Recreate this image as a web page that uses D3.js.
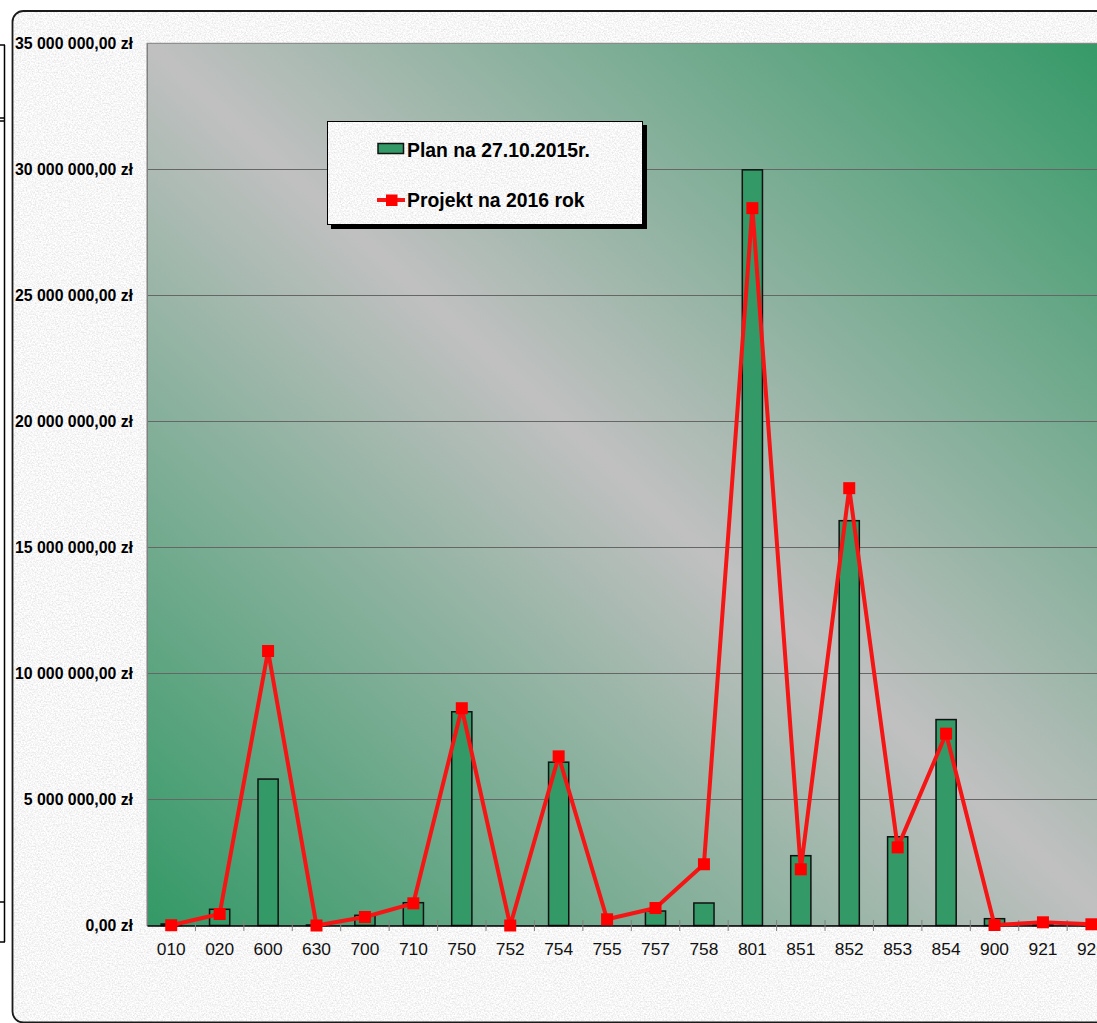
<!DOCTYPE html>
<html>
<head>
<meta charset="utf-8">
<script src="https://cdn.jsdelivr.net/npm/d3@7"></script>
<style>
  html, body { margin: 0; padding: 0; background: #ffffff; }
  svg { display: block; }
</style>
</head>
<body>
<svg id="chart" width="1097" height="1023"></svg>
<script>
// ---- data ----
const categories = ["010","020","600","630","700","710","750","752","754","755","757","758","801","851","852","853","854","900","921","926"];
const planValues = [60000, 643000, 5810000, 20000, 405000, 905000, 8480000, 0, 6480000, 0, 575000, 893000, 29980000, 2770000, 16060000, 3520000, 8170000, 270000, 40000, 20000];
const projectValues = [10000, 456000, 10890000, 0, 337000, 880000, 8620000, 0, 6710000, 246000, 694000, 2430000, 28460000, 2230000, 17350000, 3100000, 7610000, 20000, 127000, 48000];
const yTicks = [0, 5000000, 10000000, 15000000, 20000000, 25000000, 30000000, 35000000];
const seriesNames = ["Plan na 27.10.2015r.", "Projekt na 2016 rok"];

// ---- layout ----
const W = 1097, H = 1023;
const plot = { left: 147, top: 43.3, bottom: 925.5, step: 48.43 };
plot.right = plot.left + categories.length * plot.step;
const FONT = "Liberation Sans, Arial, sans-serif";

const svg = d3.select("#chart");
const defs = svg.append("defs");

// fit font size so that a text reaches a target width
function fitFont(sel, targetWidth, base) {
  let maxW = 0;
  sel.each(function () { maxW = Math.max(maxW, this.getComputedTextLength()); });
  if (maxW > 0) sel.attr("font-size", base * targetWidth / maxW);
}

// granite texture filter
const f = defs.append("filter").attr("id", "granite")
  .attr("x", 0).attr("y", 0).attr("width", 1).attr("height", 1);
f.append("feTurbulence").attr("type", "fractalNoise").attr("baseFrequency", 0.65)
  .attr("numOctaves", 3).attr("seed", 7).attr("result", "noise");
f.append("feColorMatrix").attr("in", "noise").attr("type", "matrix")
  .attr("values", "0.45 0 0 0 0.7  0.45 0 0 0 0.7  0.45 0 0 0 0.7  0 0 0 0 1")
  .attr("result", "gray");
f.append("feComposite").attr("in", "gray").attr("in2", "SourceGraphic").attr("operator", "in");

// plot gradient
const g = defs.append("linearGradient").attr("id", "plotGrad")
  .attr("x1", 0).attr("y1", 1).attr("x2", 1).attr("y2", 0);
g.append("stop").attr("offset", "0%").attr("stop-color", "#339966");
g.append("stop").attr("offset", "50%").attr("stop-color", "#c0c0c0");
g.append("stop").attr("offset", "100%").attr("stop-color", "#339966");

// left strip lines (sheet cell borders)
const strip = svg.append("g").attr("stroke", "#000").attr("stroke-width", 1.5);
[45, 118, 121, 902, 942].forEach(yy => strip.append("line").attr("x1", 0).attr("x2", 5).attr("y1", yy).attr("y2", yy));
strip.append("line").attr("x1", 4.5).attr("x2", 4.5).attr("y1", 45).attr("y2", 942);

// chart box
svg.append("rect").attr("x", 12.5).attr("y", 11).attr("width", 1110).attr("height", 1011.5)
  .attr("rx", 11).attr("fill", "#fff").attr("filter", "url(#granite)");
svg.append("rect").attr("x", 12.5).attr("y", 11).attr("width", 1110).attr("height", 1011.5)
  .attr("rx", 11).attr("fill", "none").attr("stroke", "#1a1a1a").attr("stroke-width", 1.8);

// scales
const x = d3.scaleBand().domain(categories).range([plot.left, plot.right]).paddingInner(0).paddingOuter(0);
const y = d3.scaleLinear().domain([0, 35000000]).range([plot.bottom, plot.top]);

// plot area
svg.append("rect").attr("x", plot.left).attr("y", plot.top)
  .attr("width", plot.right - plot.left).attr("height", plot.bottom - plot.top)
  .attr("fill", "url(#plotGrad)").attr("stroke", "#808080").attr("stroke-width", 1);

// gridlines
svg.append("g").selectAll("line").data(yTicks.slice(1, -1)).join("line")
  .attr("x1", plot.left).attr("x2", plot.right)
  .attr("y1", d => Math.round(y(d)) + 0.5).attr("y2", d => Math.round(y(d)) + 0.5)
  .attr("stroke", "#666").attr("stroke-width", 1);

// y axis labels
const pl = d3.formatLocale({ decimal: ",", thousands: " ", grouping: [3], currency: ["", " zł"] });
const fmt = pl.format(",.2f");
const yAxis = d3.axisLeft(y).tickValues(yTicks).tickSize(0).tickPadding(14).tickFormat(d => fmt(d) + " zł");
const ya = svg.append("g").attr("transform", `translate(${plot.left},0)`).call(yAxis)
  .attr("font-family", FONT).attr("font-size", 14);
ya.select(".domain").attr("stroke", "#808080");
const yText = ya.selectAll("text").attr("font-family", FONT)
  .attr("font-size", 14).attr("font-weight", "bold").attr("fill", "#000");
fitFont(yText, 118, 14);

// bars
const bw = plot.step / 2.4;
svg.append("g").selectAll("rect").data(categories).join("rect")
  .attr("x", (d) => x(d) + x.bandwidth() / 2 - bw / 2)
  .attr("y", (d, i) => y(planValues[i]))
  .attr("width", bw)
  .attr("height", (d, i) => plot.bottom - y(planValues[i]))
  .attr("fill", "#339966").attr("stroke", "#111").attr("stroke-width", 1.5);

// x axis
const xAxis = d3.axisBottom(x).tickSize(0).tickPadding(17);
const xa = svg.append("g").attr("transform", `translate(0,${plot.bottom})`).call(xAxis)
  .attr("font-family", FONT).attr("font-size", 17);
xa.select(".domain").attr("stroke", "#000").attr("stroke-width", 1.5);
const xText = xa.selectAll("text").attr("font-family", FONT)
  .attr("font-size", 17).attr("fill", "#111");
fitFont(xText, 29, 17);
// cross tick marks at band boundaries
svg.append("g").selectAll("line").data(categories).join("line")
  .attr("x1", d => x(d) + x.bandwidth()).attr("x2", d => x(d) + x.bandwidth())
  .attr("y1", plot.bottom - 5.5).attr("y2", plot.bottom + 5.5)
  .attr("stroke", "#808080").attr("stroke-width", 1);

// line series
const line = d3.line().x((d, i) => x(categories[i]) + x.bandwidth() / 2).y(d => y(d));
svg.append("path").datum(projectValues).attr("d", line)
  .attr("fill", "none").attr("stroke", "#f51515").attr("stroke-width", 4).attr("stroke-linejoin", "round");
svg.append("g").selectAll("rect").data(projectValues).join("rect")
  .attr("x", (d, i) => x(categories[i]) + x.bandwidth() / 2 - 6)
  .attr("y", d => y(d) - 6).attr("width", 12).attr("height", 12).attr("fill", "#ff0000");

// legend
const lg = svg.append("g");
lg.append("rect").attr("x", 331).attr("y", 125).attr("width", 316).attr("height", 104).attr("fill", "#000");
lg.append("rect").attr("x", 327).attr("y", 121).attr("width", 316).attr("height", 104)
  .attr("fill", "#fff").attr("filter", "url(#granite)");
lg.append("rect").attr("x", 327.5).attr("y", 121.5).attr("width", 315).attr("height", 103)
  .attr("fill", "none").attr("stroke", "#000").attr("stroke-width", 1);
lg.append("rect").attr("x", 378).attr("y", 143.5).attr("width", 25.5).attr("height", 10)
  .attr("fill", "#339966").attr("stroke", "#111").attr("stroke-width", 1.5);
lg.append("line").attr("x1", 377).attr("x2", 405).attr("y1", 200).attr("y2", 200)
  .attr("stroke", "#f51515").attr("stroke-width", 4);
lg.append("rect").attr("x", 386).attr("y", 194.5).attr("width", 11.5).attr("height", 11.5).attr("fill", "#ff0000");
const lText = lg.selectAll("text").data(seriesNames).join("text")
  .attr("x", 407).attr("y", (d, i) => 150 + i * 50).attr("dy", "0.36em")
  .attr("font-family", FONT).attr("font-size", 18.5)
  .attr("font-weight", "bold").attr("fill", "#000").text(d => d);
fitFont(lText, 183, 18.5);
</script>
</body>
</html>
